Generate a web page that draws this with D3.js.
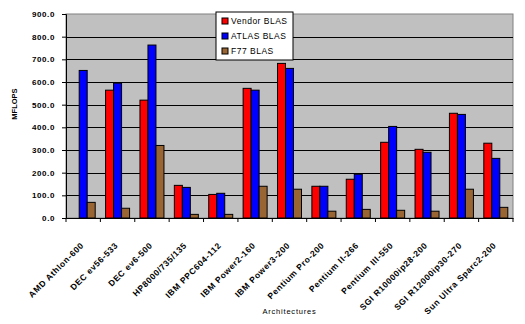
<!DOCTYPE html>
<html>
<head>
<meta charset="utf-8">
<script src="https://cdn.jsdelivr.net/npm/d3@7"></script>
<style>
  body { margin: 0; background: #fff; }
  text { font-family: "Liberation Sans", Arial, sans-serif; }
</style>
</head>
<body>
<div id="chart"></div>
<script>
var categories = ["AMD Athlon-600", "DEC ev56-533", "DEC ev6-500", "HP8000/735/135",
    "IBM PPC604-112", "IBM Power2-160", "IBM Power3-200", "Pentium Pro-200",
    "Pentium II-266", "Pentium III-550", "SGI R10000ip28-200", "SGI R12000ip30-270",
    "Sun Ultra Sparc2-200"];

var seriesNames = ["Vendor BLAS", "ATLAS BLAS", "F77 BLAS"];

var vendorBlas = [0, 564, 520, 144, 104, 572, 682, 140, 171, 334, 303, 462, 330];
var atlasBlas  = [651, 595, 763, 135, 109, 564, 660, 140, 193, 404, 290, 457, 263];
var f77Blas    = [69, 43, 320, 16, 16, 140, 127, 30, 38, 34, 30, 127, 47];

var yTicks = [0, 100, 200, 300, 400, 500, 600, 700, 800, 900];

var margin = {top: 14, right: 12, bottom: 106, left: 66},
    width = 525 - margin.left - margin.right,
    height = 324 - margin.top - margin.bottom;

var data = categories.map(function(c, i) {
  return {cat: c, values: [vendorBlas[i], atlasBlas[i], f77Blas[i]]};
});

var color = d3.scaleOrdinal()
    .domain(seriesNames)
    .range(["#ff0000", "#0000ff", "#996633"]);

var x = d3.scaleBand()
    .domain(categories)
    .range([0, width]);

var barW = 8;
var x1 = d3.scaleBand()
    .domain(seriesNames)
    .range([0, barW * 3]);

var y = d3.scaleLinear()
    .domain([0, 900])
    .range([height, 0]);

var svg = d3.select("#chart").append("svg")
    .attr("width", 525)
    .attr("height", 324)
    .append("g")
    .attr("transform", "translate(" + margin.left + "," + margin.top + ")");

// plot background
svg.append("rect")
    .attr("width", width)
    .attr("height", height)
    .attr("fill", "#c0c0c0")
    .attr("stroke", "#808080")
    .attr("stroke-width", 1);

// gridlines
svg.selectAll(".grid")
    .data(yTicks.filter(function(d) { return d > 0 && d < 900; }))
  .enter().append("line")
    .attr("x1", 0)
    .attr("x2", width)
    .attr("y1", function(d) { return Math.round(y(d)) + 0.5; })
    .attr("y2", function(d) { return Math.round(y(d)) + 0.5; })
    .attr("stroke", "#000")
    .attr("stroke-width", 1);

// bars
var groups = svg.selectAll(".group")
    .data(data)
  .enter().append("g")
    .attr("transform", function(d) {
      return "translate(" + (x(d.cat) + x.bandwidth() / 2 - barW * 1.5) + ",0)";
    });

groups.selectAll("rect")
    .data(function(d) {
      return d.values.map(function(v, i) { return {name: seriesNames[i], value: v}; });
    })
  .enter().filter(function(d) { return d.value > 0; }).append("rect")
    .attr("x", function(d) { return x1(d.name); })
    .attr("y", function(d) { return y(d.value); })
    .attr("width", x1.bandwidth())
    .attr("height", function(d) { return height - y(d.value); })
    .attr("fill", function(d) { return color(d.name); })
    .attr("stroke", "#000")
    .attr("stroke-width", 1);

// y axis
var yAxis = d3.axisLeft(y)
    .tickValues(yTicks)
    .tickSize(4)
    .tickPadding(7)
    .tickFormat(d3.format(".1f"));

var yG = svg.append("g").call(yAxis);
yG.select(".domain").attr("stroke", "#000");
yG.selectAll("text")
    .style("font-size", "8px")
    .style("font-weight", "bold")
    .style("letter-spacing", "0.6px")
    .attr("fill", "#000");

// x axis
var xAxis = d3.axisBottom(x).tickSize(0).tickFormat("");
var xG = svg.append("g")
    .attr("transform", "translate(0," + height + ")")
    .call(xAxis);
xG.select(".domain").attr("stroke", "#000");

xG.selectAll(".sep")
    .data(categories.concat([null]))
  .enter().append("line")
    .attr("x1", function(d, i) { return i * x.step(); })
    .attr("x2", function(d, i) { return i * x.step(); })
    .attr("y1", 0)
    .attr("y2", 4)
    .attr("stroke", "#000");

xG.selectAll(".lbl")
    .data(categories)
  .enter().append("text")
    .attr("transform", function(d) {
      return "translate(" + (x(d) + x.bandwidth() / 2 + 1) + ",28) rotate(-45)";
    })
    .attr("text-anchor", "end")
    .style("font-size", "8.5px")
    .style("font-weight", "bold")
    .style("letter-spacing", "0.6px")
    .attr("fill", "#000")
    .text(function(d) { return d; });

// axis titles
svg.append("text")
    .attr("x", width / 2)
    .attr("y", height + 96)
    .attr("text-anchor", "middle")
    .style("font-size", "7.5px")
    .style("letter-spacing", "0.8px")
    .text("Architectures");

svg.append("text")
    .attr("transform", "translate(" + (-49) + "," + (104 - margin.top) + ") rotate(-90)")
    .attr("text-anchor", "middle")
    .style("font-size", "7.5px")
    .style("font-weight", "bold")
    .text("MFLOPS");

// legend
var legend = svg.append("g")
    .attr("transform", "translate(" + (216 - margin.left) + "," + (12 - margin.top) + ")");

legend.append("rect")
    .attr("width", 77)
    .attr("height", 48)
    .attr("fill", "#fff")
    .attr("stroke", "#000");

var items = legend.selectAll(".item")
    .data(seriesNames)
  .enter().append("g")
    .attr("transform", function(d, i) { return "translate(6," + (8 + i * 15) + ")"; });

items.append("rect")
    .attr("width", 6)
    .attr("height", 6)
    .attr("y", -2)
    .attr("fill", function(d) { return color(d); })
    .attr("stroke", "#000");

items.append("text")
    .attr("x", 9)
    .attr("y", 4)
    .style("font-size", "8.5px")
    .style("letter-spacing", "0.5px")
    .text(function(d) { return d; });
</script>
</body>
</html>
